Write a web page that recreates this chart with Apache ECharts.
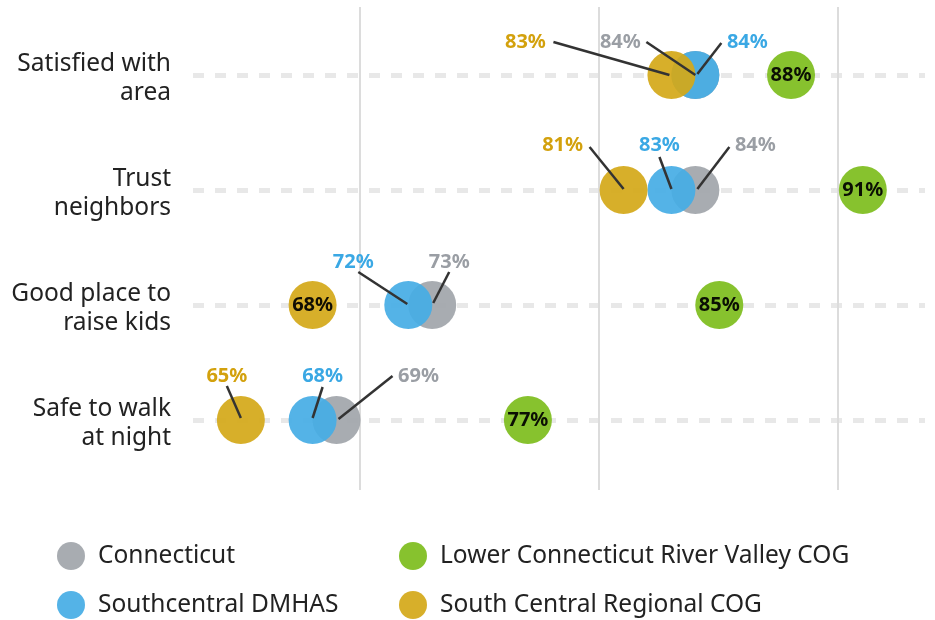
<!DOCTYPE html>
<html>
<head>
<meta charset="utf-8">
<script src="https://cdn.jsdelivr.net/npm/echarts@6/dist/echarts.min.js"></script>
<style>
  html, body { margin: 0; padding: 0; background: #fff; }
  #chart { width: 935px; height: 620px; }
</style>
</head>
<body>
<div id="chart"></div>
<script>
var categories = ['Satisfied with\narea', 'Trust\nneighbors', 'Good place to\nraise kids', 'Safe to walk\nat night'];
var seriesNames = ['Connecticut', 'Southcentral DMHAS', 'Lower Connecticut River Valley COG', 'South Central Regional COG'];
var connecticut = [84, 84, 73, 69];
var southcentralDmhas = [84, 83, 72, 68];
var lowerCrvCog = [88, 91, 85, 77];
var southCentralCog = [83, 81, 68, 65];

var colors = ['#a1a5aa', '#45ace5', '#7dbd1c', '#d4a818'];
var textColors = ['#9a9ea4', '#3aa8e4', null, '#d3a10d'];
var FONT = '"Noto Sans", sans-serif';

// outside labels: "series-category" -> text pos, line start, line end (px from dot centre)
var outside = {
    '0-0': { t: [-75, -33], s: [-49, -33], e: [0, 0] },
    '1-0': { t: [52, -33], s: [26, -32], e: [2, -1] },
    '3-0': { t: [-146, -33], s: [-118, -33], e: [-2, 0] },
    '0-1': { t: [60, -45], s: [34, -43], e: [2, -1] },
    '1-1': { t: [-12, -45], s: [-12, -33], e: [0, -1] },
    '3-1': { t: [-61, -45], s: [-34, -43], e: [0, -1] },
    '0-2': { t: [17, -43], s: [17, -33], e: [1, -2] },
    '1-2': { t: [-55, -43], s: [-50, -33], e: [-1, -1] },
    '0-3': { t: [82, -44], s: [56, -44], e: [2, -1] },
    '1-3': { t: [10, -44], s: [10, -33], e: [0, -2] },
    '3-3': { t: [-14, -44], s: [-14, -34], e: [0, -2] }
};

// legend slots: [left, top] for each series
var legendPos = [[52, 537], [52, 586], [394, 537], [394, 586]];

drawChart();

function drawChart() {
    var values = [connecticut, southcentralDmhas, lowerCrvCog, southCentralCog];
    var series = [];
    var notes = [];

    values.forEach(function (arr, si) {
        series.push({
            name: seriesNames[si],
            type: 'scatter',
            xAxisIndex: 0,
            yAxisIndex: 0,
            symbolSize: 48,
            z: 3 + si,
            itemStyle: { color: colors[si], opacity: 0.92 },
            data: arr.map(function (v, ci) {
                var inside = !outside[si + '-' + ci];
                return {
                    value: [v, ci],
                    label: {
                        show: inside,
                        position: 'inside',
                        formatter: v + '%',
                        color: '#000',
                        fontWeight: 'bold',
                        fontSize: 20,
                        fontFamily: FONT
                    }
                };
            })
        });
        arr.forEach(function (v, ci) {
            var o = outside[si + '-' + ci];
            if (o) notes.push({ v: v, ci: ci, si: si, o: o });
        });
    });

    // leader lines + outside labels
    series.push({
        type: 'custom',
        xAxisIndex: 0,
        yAxisIndex: 0,
        z: 20,
        silent: true,
        data: notes.map(function (n) { return [n.v, n.ci]; }),
        renderItem: function (params, api) {
            var n = notes[params.dataIndex];
            var p = api.coord([api.value(0), api.value(1)]);
            return {
                type: 'group',
                children: [{
                    type: 'line',
                    shape: {
                        x1: p[0] + n.o.s[0], y1: p[1] + n.o.s[1],
                        x2: p[0] + n.o.e[0], y2: p[1] + n.o.e[1]
                    },
                    style: { stroke: '#333', lineWidth: 2.5 }
                }, {
                    type: 'text',
                    x: p[0] + n.o.t[0],
                    y: p[1] + n.o.t[1],
                    style: {
                        text: n.v + '%',
                        fill: textColors[n.si],
                        font: 'bold 20px ' + FONT,
                        align: 'center',
                        verticalAlign: 'middle'
                    }
                }]
            };
        }
    });

    var legends = seriesNames.map(function (name, i) {
        return {
            data: [name],
            left: legendPos[i][0],
            top: legendPos[i][1],
            icon: 'circle',
            itemWidth: 44,
            itemHeight: 28,
            selectedMode: false,
            textStyle: { color: '#222', fontSize: 24.5, fontFamily: FONT, lineHeight: 28 }
        };
    });

    option = {
        animation: false,
        backgroundColor: '#fff',
        legend: legends,
        grid: [
            { left: 193, right: 10, top: 75, bottom: 200 },
            { left: 360, right: 97, top: 7, bottom: 130 }
        ],
        xAxis: [{
            gridIndex: 0,
            type: 'value',
            min: 63,
            max: 93.6,
            show: false
        }, {
            gridIndex: 1,
            type: 'value',
            min: 70,
            max: 90,
            interval: 10,
            z: 0,
            axisLine: { show: false },
            axisTick: { show: false },
            axisLabel: { show: false },
            splitLine: { show: true, lineStyle: { color: '#dcdcdc', width: 2 } }
        }],
        yAxis: [{
            gridIndex: 0,
            type: 'category',
            data: categories,
            inverse: true,
            boundaryGap: false,
            axisLine: { show: false },
            axisTick: { show: false },
            axisLabel: {
                margin: 22,
                color: '#222',
                fontSize: 24.5,
                lineHeight: 29,
                fontFamily: FONT,
                align: 'right',
                // small blank first line nudges the two-line label down a little
                formatter: function (v) { return '{s| }\n' + v; },
                rich: { s: { fontSize: 1, lineHeight: 8 } }
            },
            splitLine: {
                show: true,
                lineStyle: { color: '#e8e8e8', width: 5, type: [11, 11] }
            }
        }, {
            gridIndex: 1,
            type: 'value',
            min: 0,
            max: 1,
            show: false
        }],
        series: series
    };

    var myChart = echarts.init(document.getElementById('chart'));
    myChart.setOption(option, true);
}
</script>
</body>
</html>
